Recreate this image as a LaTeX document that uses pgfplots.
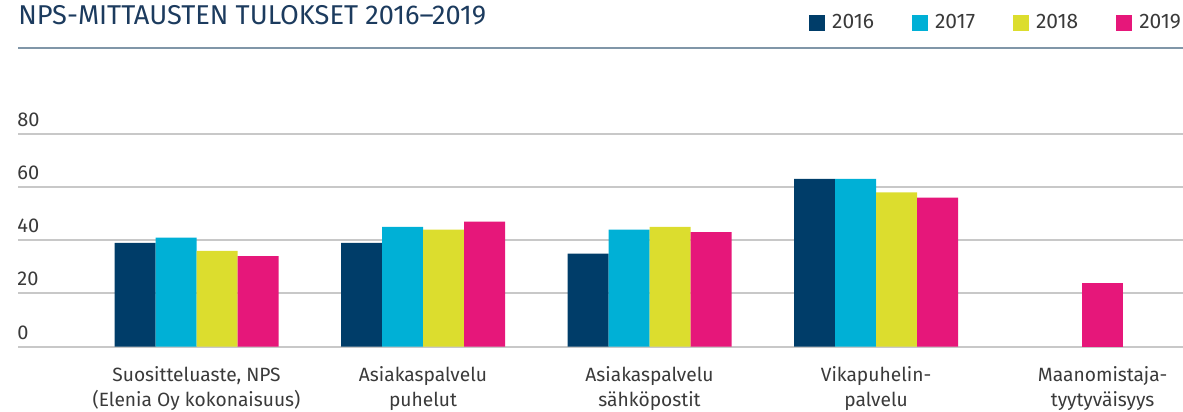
\documentclass[border=0pt]{standalone}
\usepackage{fontspec}
\setmainfont{Fira Sans}
\usepackage{pgfplots}
\pgfplotsset{compat=1.18}
\definecolor{c16}{HTML}{003D69}
\definecolor{c17}{HTML}{00B0D6}
\definecolor{c18}{HTML}{DCDD2E}
\definecolor{c19}{HTML}{E6177A}
\definecolor{gridgray}{HTML}{C8C8C8}
\definecolor{labelgray}{HTML}{3A3A3A}
\definecolor{titleblue}{HTML}{1C3B5E}
\definecolor{ruleblue}{HTML}{8096A8}
\pgfplotsset{sq legend/.style={legend image code/.code={%
  \fill[##1,draw=none] (0pt,-4pt) rectangle (8pt,4pt);}}}

\begin{document}
\begin{tikzpicture}
\begin{axis}[
  scale only axis, width=582.5pt, height=106.5pt,
  xmin=-0.788, xmax=4.355, ymin=0, ymax=80,
  clip=false,
  axis line style={draw=none},
  major tick length=0pt,
  ytick={0,20,40,60,80},
  ymajorgrids, grid style={draw=gridgray, line width=1pt},
  xtick={0,1,2,3,4},
  xticklabels={{Suositteluaste, NPS\\(Elenia Oy kokonaisuus)},
               {Asiakaspalvelu\\puhelut},
               {Asiakaspalvelu\\sähköpostit},
               {Vikapuhelin-\\palvelu},
               {Maanomistaja-\\tyytyväisyys}},
  xticklabel style={align=center, anchor=north, inner sep=0pt, yshift=-9.5pt,
    font=\fontsize{9.6}{12.5}\selectfont, text=labelgray},
  yticklabel style={anchor=south west, inner sep=0pt, xshift=-0.5pt, yshift=3.5pt,
    font=\fontsize{10}{12}\selectfont, text=labelgray},
  /pgf/number format/assume math mode=true,
  ybar, bar width=20.5pt,
  legend columns=4,
  legend style={draw=none, fill=none, inner sep=0pt, outer sep=0pt,
    at={(rel axis cs:1,1)}, anchor=east, yshift=55.3pt, xshift=1pt,
    font=\fontsize{10.5}{13}\selectfont, text=labelgray,
    /tikz/every odd column/.append style={column sep=1.5pt},
    /tikz/every even column/.append style={column sep=17pt}},
]
\addplot[fill=c16, draw=none, bar shift=-30.75pt, sq legend]
  coordinates {(0,39) (1,39) (2,35) (3,63)};
\addplot[fill=c17, draw=none, bar shift=-10.25pt, sq legend]
  coordinates {(0,41) (1,45) (2,44) (3,63)};
\addplot[fill=c18, draw=none, bar shift=10.25pt, sq legend]
  coordinates {(0,36) (1,44) (2,45) (3,58)};
\addplot[fill=c19, draw=none, bar shift=30.75pt, sq legend]
  coordinates {(0,34) (1,47) (2,43) (3,56)};
% single bar of the last group sits centred
\addplot[fill=c19, draw=none, bar shift=0pt, forget plot]
  coordinates {(4,24)};
\legend{2016,2017,2018,2019}

\node[anchor=base west, inner sep=0pt, yshift=54.85pt, text=titleblue,
  font=\fontsize{13.6}{15}\selectfont] at (rel axis cs:0,1)
  {NPS-MITTAUSTEN TULOKSET 2016–2019};
\draw[ruleblue, line width=1pt] (rel axis cs:0,1) ++(0pt,42.85pt) -- ++(582.5pt,0pt);
\coordinate (bl) at ([xshift=-9pt,yshift=-32.25pt]rel axis cs:0,0);
\coordinate (tr) at ([yshift=66.85pt]rel axis cs:1,1);
\end{axis}
\pgfresetboundingbox
\path[use as bounding box] (bl) rectangle (tr);
\end{tikzpicture}
\end{document}
